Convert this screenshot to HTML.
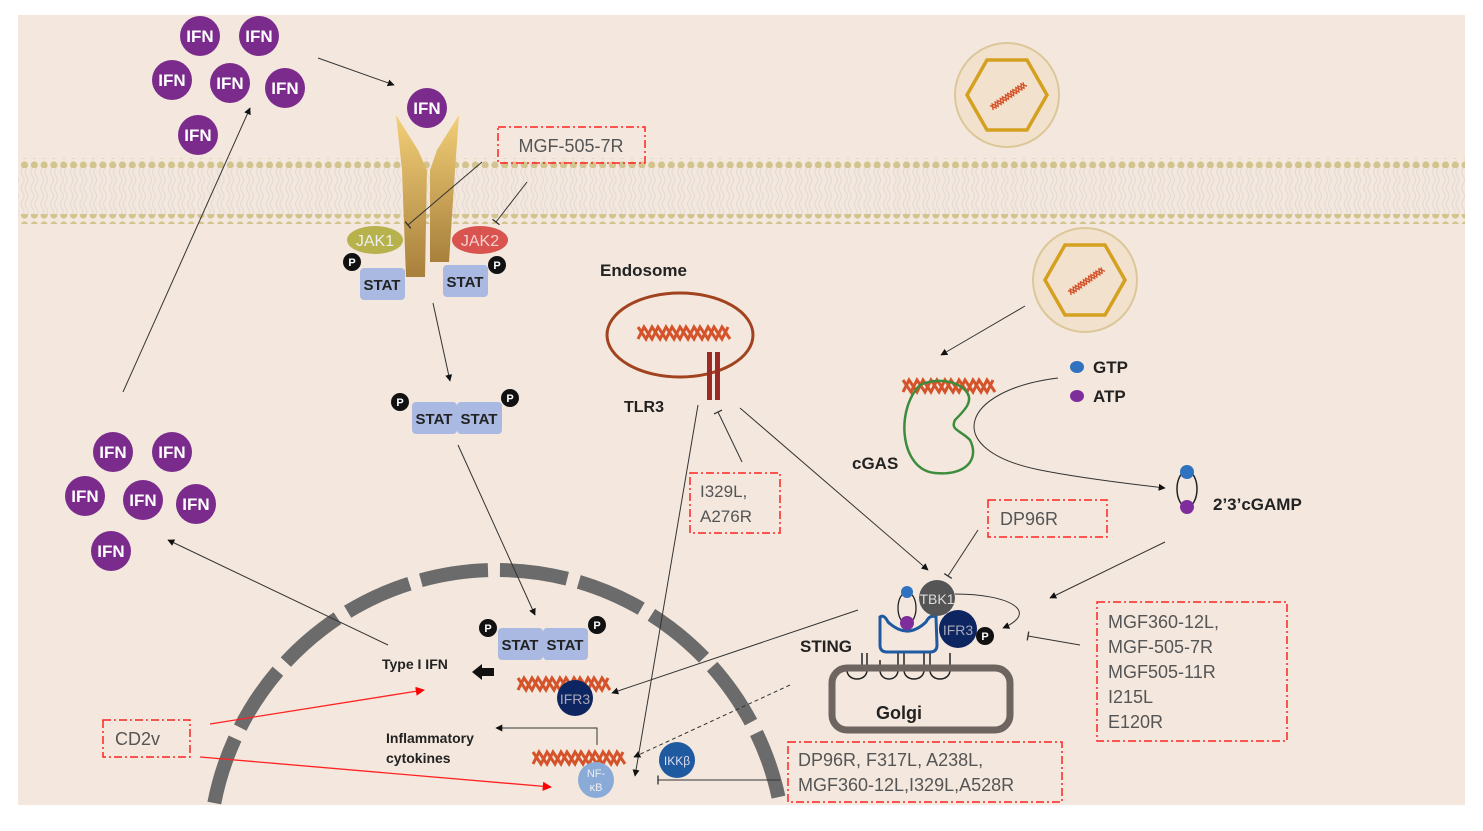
<!DOCTYPE html>
<html><head><meta charset="utf-8"><style>
html,body{margin:0;padding:0;background:#fff;width:1483px;height:831px;overflow:hidden;}
svg{display:block;font-family:"Liberation Sans",sans-serif;}
</style></head><body>
<svg width="1483" height="831" viewBox="0 0 1483 831" xmlns="http://www.w3.org/2000/svg">
<defs>
<pattern id="dots" x="0" y="0" width="9.8" height="10" patternUnits="userSpaceOnUse"><circle cx="4.9" cy="5" r="3.6" fill="#d2c48e"/></pattern>
<pattern id="lip" x="0" y="0" width="9.8" height="48" patternUnits="userSpaceOnUse"><path d="M3,0 q3,4 0,8 t0,8 t0,8 t0,8 t0,8 t0,8 M7,0 q3,4 0,8 t0,8 t0,8 t0,8 t0,8 t0,8" fill="none" stroke="#e4dbd4" stroke-width="1.2"/></pattern>
<linearGradient id="gold" x1="0" y1="0" x2="0" y2="1"><stop offset="0" stop-color="#f2cf78"/><stop offset="1" stop-color="#a8803c"/></linearGradient>
<g id="dna"><path d="M-42,-6 l8,12 l6,-12 l8,12 l6,-12 l8,12 l6,-12 l8,12 l6,-12 l8,12 l6,-12 l8,12 l6,-12 l8,12" fill="none" stroke="#d4532a" stroke-width="3"/><path d="M-42,6 l6,-12 l8,12 l6,-12 l8,12 l6,-12 l8,12 l6,-12 l8,12 l6,-12 l8,12 l6,-12 l8,12 l6,-12" fill="none" stroke="#d4532a" stroke-width="3"/></g>
<marker id="ar" viewBox="0 0 10 10" refX="9" refY="5" markerWidth="7" markerHeight="7" orient="auto"><path d="M0,0 L10,5 L0,10z" fill="#111"/></marker>
<marker id="arr" viewBox="0 0 10 10" refX="9" refY="5" markerWidth="7" markerHeight="7" orient="auto"><path d="M0,0 L10,5 L0,10z" fill="#f00"/></marker>
<marker id="bar" viewBox="0 0 10 10" refX="5" refY="5" markerWidth="9" markerHeight="9" orient="auto"><path d="M5,0 L5,10" stroke="#333" stroke-width="1.5"/></marker>
</defs>
<rect x="18" y="15" width="1447" height="790" fill="#f4e8de"/>
<rect x="18" y="168" width="1447" height="48" fill="url(#lip)"/>
<rect x="18" y="158" width="1447" height="10" fill="url(#dots)"/>
<rect x="18" y="214" width="1447" height="10" fill="url(#dots)"/>
<circle cx="497" cy="858" r="288" fill="none" stroke="#6b6b6b" stroke-width="14" stroke-dasharray="68 12"/>
<rect x="0" y="806" width="1483" height="30" fill="#fff"/>
<g fill="#7a2b8c">
<circle cx="200" cy="36" r="20"/><circle cx="259" cy="36" r="20"/><circle cx="172" cy="80" r="20"/><circle cx="230" cy="83" r="20"/><circle cx="285" cy="88" r="20"/><circle cx="198" cy="135" r="20"/>
<circle cx="427" cy="108" r="20"/>
<circle cx="113" cy="452" r="20"/><circle cx="172" cy="452" r="20"/><circle cx="85" cy="496" r="20"/><circle cx="143" cy="500" r="20"/><circle cx="196" cy="504" r="20"/><circle cx="111" cy="551" r="20"/>
</g>
<g fill="#fff" font-weight="bold" font-size="17" text-anchor="middle">
<text x="200" y="42">IFN</text><text x="259" y="42">IFN</text><text x="172" y="86">IFN</text><text x="230" y="89">IFN</text><text x="285" y="94">IFN</text><text x="198" y="141">IFN</text>
<text x="427" y="114">IFN</text>
<text x="113" y="458">IFN</text><text x="172" y="458">IFN</text><text x="85" y="502">IFN</text><text x="143" y="506">IFN</text><text x="196" y="510">IFN</text><text x="111" y="557">IFN</text>
</g>
<polygon points="396,115 418,150 427,170 425,277 406,277 402,170" fill="url(#gold)"/>
<polygon points="459,115 437,150 430,170 430,262 449,262 455,170" fill="url(#gold)"/>
<ellipse cx="375" cy="240" rx="28" ry="14" fill="#b7b24c"/><text x="375" y="246" font-size="16" fill="#eee" text-anchor="middle">JAK1</text>
<ellipse cx="480" cy="240" rx="28" ry="14" fill="#d9534f"/><text x="480" y="246" font-size="16" fill="#f5d0d0" text-anchor="middle">JAK2</text>
<rect x="360" y="268" width="45" height="32" rx="4" fill="#a9b9e2"/><text x="382" y="290" font-size="15" font-weight="bold" text-anchor="middle" fill="#222">STAT</text>
<rect x="443" y="265" width="45" height="32" rx="4" fill="#a9b9e2"/><text x="465" y="287" font-size="15" font-weight="bold" text-anchor="middle" fill="#222">STAT</text>
<g fill="#111"><circle cx="352" cy="262" r="9"/><circle cx="497" cy="265" r="9"/><circle cx="400" cy="402" r="9"/><circle cx="510" cy="398" r="9"/><circle cx="488" cy="628" r="9"/><circle cx="597" cy="625" r="9"/><circle cx="985" cy="636" r="9"/></g>
<g fill="#fff" font-size="11" font-weight="bold" text-anchor="middle"><text x="352" y="266">P</text><text x="497" y="269">P</text><text x="400" y="406">P</text><text x="510" y="402">P</text><text x="488" y="632">P</text><text x="597" y="629">P</text><text x="985" y="640">P</text></g>
<rect x="412" y="402" width="45" height="32" rx="4" fill="#a9b9e2"/><rect x="457" y="402" width="45" height="32" rx="4" fill="#a9b9e2"/>
<text x="434" y="424" font-size="15" font-weight="bold" text-anchor="middle" fill="#222">STAT</text><text x="479" y="424" font-size="15" font-weight="bold" text-anchor="middle" fill="#222">STAT</text>
<rect x="498" y="628" width="45" height="32" rx="4" fill="#a9b9e2"/><rect x="543" y="628" width="45" height="32" rx="4" fill="#a9b9e2"/>
<text x="520" y="650" font-size="15" font-weight="bold" text-anchor="middle" fill="#222">STAT</text><text x="565" y="650" font-size="15" font-weight="bold" text-anchor="middle" fill="#222">STAT</text>
<rect x="498" y="127" width="147" height="36" fill="none" stroke="#f22" stroke-width="1.5" stroke-dasharray="8 3 2 3"/>
<text x="571" y="152" font-size="18" fill="#555" text-anchor="middle">MGF-505-7R</text>
<g stroke="#333" stroke-width="1" fill="none">
<line x1="482" y1="162" x2="408" y2="225" marker-end="url(#bar)"/>
<line x1="527" y1="182" x2="496" y2="222" marker-end="url(#bar)"/>
<line x1="318" y1="58" x2="394" y2="85" marker-end="url(#ar)"/>
<line x1="433" y1="303" x2="450" y2="381" marker-end="url(#ar)"/>
<line x1="458" y1="445" x2="535" y2="615" marker-end="url(#ar)"/>
<line x1="123" y1="392" x2="250" y2="108" marker-end="url(#ar)"/>
<line x1="388" y1="645" x2="168" y2="540" marker-end="url(#ar)"/>
<line x1="742" y1="462" x2="718" y2="412" marker-end="url(#bar)"/>
<line x1="698" y1="405" x2="635" y2="776" marker-end="url(#ar)"/>
<line x1="740" y1="408" x2="928" y2="570" marker-end="url(#ar)"/>
<line x1="1025" y1="306" x2="941" y2="355" marker-end="url(#ar)"/>
<path d="M1058,378 C960,390 940,450 1040,470 C1080,478 1130,484 1165,488" marker-end="url(#ar)"/>
<line x1="1165" y1="542" x2="1050" y2="598" marker-end="url(#ar)"/>
<line x1="978" y1="530" x2="948" y2="576" marker-end="url(#bar)"/>
<path d="M955,594 C1010,594 1040,612 1003,628" marker-end="url(#ar)"/>
<line x1="1080" y1="645" x2="1028" y2="636" marker-end="url(#bar)"/>
<line x1="858" y1="610" x2="612" y2="693" marker-end="url(#ar)"/>
<line x1="790" y1="685" x2="634" y2="757" stroke-dasharray="4 3" marker-end="url(#ar)"/>
<path d="M780,780 L658,780" marker-end="url(#bar)"/>
<path d="M597,745 L597,728 L496,728" marker-end="url(#ar)"/>
</g>
<g stroke="#f22" stroke-width="1.3"><line x1="210" y1="724" x2="424" y2="690" marker-end="url(#arr)"/><line x1="200" y1="757" x2="551" y2="787" marker-end="url(#arr)"/></g>
<text x="600" y="276" font-size="17" font-weight="bold" fill="#222">Endosome</text>
<ellipse cx="680" cy="335" rx="73" ry="42" fill="none" stroke="#a2431f" stroke-width="3"/>
<use href="#dna" x="680" y="333"/>
<rect x="707" y="352" width="5" height="48" fill="#9a2a28"/><rect x="715" y="352" width="5" height="48" fill="#9a2a28"/>
<text x="624" y="412" font-size="16" font-weight="bold" fill="#222">TLR3</text>
<rect x="690" y="473" width="90" height="60" fill="none" stroke="#f22" stroke-width="1.5" stroke-dasharray="8 3 2 3"/>
<text x="700" y="497" font-size="17" fill="#555">I329L,</text><text x="700" y="522" font-size="17" fill="#555">A276R</text>
<circle cx="1007" cy="95" r="52" fill="#f2e1cc" stroke="#dcc79a" stroke-width="2"/>
<polygon points="1027,60 1047,95 1027,130 987,130 967,95 987,60" fill="none" stroke="#d4a020" stroke-width="3.5"/>
<use href="#dna" transform="translate(1007,97) rotate(-35) scale(0.45)"/>
<circle cx="1085" cy="280" r="52" fill="#f2e1cc" stroke="#dcc79a" stroke-width="2"/>
<polygon points="1105,245 1125,280 1105,315 1065,315 1045,280 1065,245" fill="none" stroke="#d4a020" stroke-width="3.5"/>
<use href="#dna" transform="translate(1085,282) rotate(-35) scale(0.45)"/>
<use href="#dna" x="945" y="386"/>
<path d="M920,385 C895,410 900,470 935,473 C965,476 980,460 970,440 C960,430 950,430 955,420 C965,410 975,400 965,390 C955,380 935,378 920,385z" fill="none" stroke="#3c8c3c" stroke-width="2.5"/>
<text x="852" y="469" font-size="17" font-weight="bold" fill="#222">cGAS</text>
<ellipse cx="1077" cy="367" rx="7" ry="6" fill="#2f72c0"/><ellipse cx="1077" cy="396" rx="7" ry="6" fill="#7e2e9c"/>
<text x="1093" y="373" font-size="17" font-weight="bold" fill="#222">GTP</text><text x="1093" y="402" font-size="17" font-weight="bold" fill="#222">ATP</text>
<ellipse cx="1187" cy="489" rx="10" ry="18" fill="none" stroke="#222" stroke-width="1.5"/>
<circle cx="1187" cy="472" r="7" fill="#2f72c0"/><circle cx="1187" cy="507" r="7" fill="#7e2e9c"/>
<text x="1213" y="510" font-size="17" font-weight="bold" fill="#222">2’3’cGAMP</text>
<rect x="988" y="500" width="119" height="37" fill="none" stroke="#f22" stroke-width="1.5" stroke-dasharray="8 3 2 3"/>
<text x="1000" y="525" font-size="18" fill="#555">DP96R</text>
<path d="M862,670 v-17 M867,653 v17 c0,12 -20,12 -20,0 M880,660 v10 c0,12 18,12 18,0 v-17 M904,653 v17 c0,12 20,12 20,0 v-17 M930,653 v17 c0,12 20,12 20,0 v-17" fill="none" stroke="#222" stroke-width="1.5"/>
<rect x="832" y="668" width="178" height="62" rx="15" fill="none" stroke="#6e6560" stroke-width="7"/>
<text x="876" y="719" font-size="18" font-weight="bold" fill="#222">Golgi</text>
<path d="M880,617 Q884,614 888,622 Q907,640 926,622 Q930,614 936,617 L937,645 Q937,652 930,652 L887,652 Q880,652 880,645z" fill="none" stroke="#1f5aa0" stroke-width="3"/>
<ellipse cx="907" cy="608" rx="9" ry="16" fill="none" stroke="#222" stroke-width="1.3"/>
<circle cx="907" cy="592" r="6" fill="#2f72c0"/><circle cx="907" cy="623" r="7" fill="#7e2e9c"/>
<circle cx="937" cy="598" r="18" fill="#555"/><text x="937" y="604" font-size="14" fill="#ddd" text-anchor="middle">TBK1</text>
<circle cx="958" cy="629" r="19" fill="#0d2560"/><text x="958" y="635" font-size="14" fill="#aab" text-anchor="middle">IFR3</text>
<text x="800" y="652" font-size="17" font-weight="bold" fill="#222">STING</text>
<rect x="1097" y="602" width="190" height="139" fill="none" stroke="#f22" stroke-width="1.5" stroke-dasharray="8 3 2 3"/>
<g font-size="18" fill="#555"><text x="1108" y="628">MGF360-12L,</text><text x="1108" y="653">MGF-505-7R</text><text x="1108" y="678">MGF505-11R</text><text x="1108" y="703">I215L</text><text x="1108" y="728">E120R</text></g>
<text x="382" y="669" font-size="14" font-weight="bold" fill="#222">Type I IFN</text>
<path d="M472,672 l10,-8 v4 h12 v8 h-12 v4z" fill="#111"/>
<use href="#dna" x="560" y="684"/>
<circle cx="575" cy="698" r="18" fill="#0d2560"/><text x="575" y="704" font-size="14" fill="#aab" text-anchor="middle">IFR3</text>
<text x="386" y="743" font-size="14" font-weight="bold" fill="#222">Inflammatory</text><text x="386" y="763" font-size="14" font-weight="bold" fill="#222">cytokines</text>
<use href="#dna" x="575" y="758"/>
<circle cx="596" cy="780" r="18" fill="#8aaad8"/><text x="596" y="777" font-size="11" fill="#eee" text-anchor="middle">NF-</text><text x="596" y="791" font-size="11" fill="#eee" text-anchor="middle">κB</text>
<circle cx="677" cy="760" r="18" fill="#1f5aa0"/><text x="677" y="765" font-size="12" fill="#dde" text-anchor="middle">IKKβ</text>
<rect x="103" y="720" width="87" height="37" fill="none" stroke="#f22" stroke-width="1.5" stroke-dasharray="8 3 2 3"/>
<text x="115" y="745" font-size="18" fill="#555">CD2v</text>
<rect x="788" y="742" width="274" height="60" fill="none" stroke="#f22" stroke-width="1.5" stroke-dasharray="8 3 2 3"/>
<text x="798" y="766" font-size="18" fill="#555">DP96R, F317L, A238L,</text><text x="798" y="791" font-size="18" fill="#555">MGF360-12L,I329L,A528R</text>
</svg>
</body></html>
